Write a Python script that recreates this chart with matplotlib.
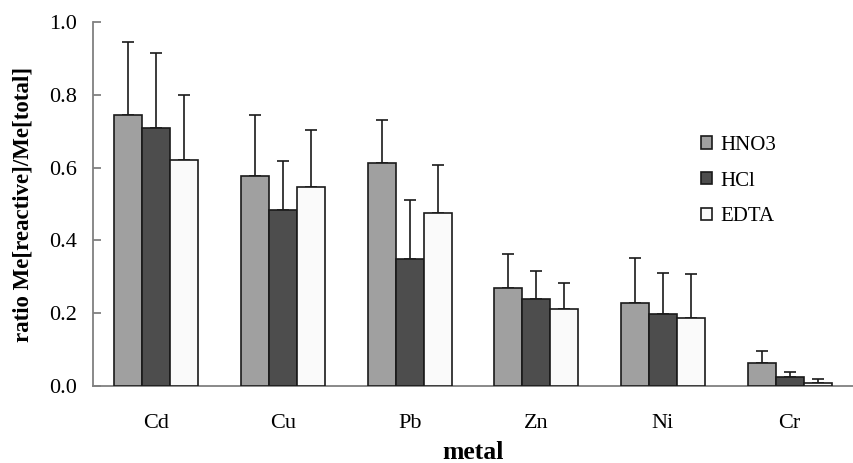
import numpy as np
import matplotlib
matplotlib.use("Agg")
import matplotlib.pyplot as plt

plt.rcParams['font.family'] = ['Liberation Serif', 'DejaVu Serif']

metals = ['Cd', 'Cu', 'Pb', 'Zn', 'Ni', 'Cr']
series = ['HNO3', 'HCl', 'EDTA']

hno3 = [0.745, 0.577, 0.613, 0.270, 0.229, 0.064]
hno3_err = [0.201, 0.168, 0.118, 0.093, 0.123, 0.033]
hcl = [0.710, 0.484, 0.348, 0.238, 0.197, 0.024]
hcl_err = [0.205, 0.133, 0.164, 0.078, 0.114, 0.014]
edta = [0.621, 0.548, 0.475, 0.211, 0.188, 0.009]
edta_err = [0.179, 0.156, 0.133, 0.073, 0.120, 0.011]

colors = ['#a0a0a0', '#4d4d4d', '#fafafa']

W, H = 854, 463
fig = plt.figure(figsize=(W / 100, H / 100), dpi=100)
ax = fig.add_axes([93 / W, (H - 386) / H, 760 / W, (386 - 22) / H])

x = np.arange(len(metals))
bw = 0.221
vals = [hno3, hcl, edta]
errs = [hno3_err, hcl_err, edta_err]
for k, (v, e) in enumerate(zip(vals, errs)):
    pos = x + (k - 1) * bw
    # upper error bar only, hidden behind the bar below its top
    ax.errorbar(pos, v, yerr=[np.zeros(len(v)), e], fmt='none',
                ecolor='#1a1a1a', elinewidth=1.2, capsize=4.6, capthick=1.2,
                zorder=2)
    ax.bar(pos, v, width=bw, color=colors[k], edgecolor='#1a1a1a',
           linewidth=1.2, label=series[k], zorder=3)

ax.set_xlim(-0.5, len(metals) - 0.5)
ax.set_ylim(0, 1.0)
ax.set_yticks(np.arange(0, 1.01, 0.2))
ax.set_yticklabels([f'{t:.1f}' for t in np.arange(0, 1.01, 0.2)])
ax.set_xticks(x)
ax.set_xticklabels(metals)

for s in ['top', 'right']:
    ax.spines[s].set_visible(False)
for s in ['left', 'bottom']:
    ax.spines[s].set_color('#808080')
    ax.spines[s].set_linewidth(1.3)

ax.tick_params(axis='y', direction='in', length=6, width=1.3, color='#808080',
               labelsize=16, pad=11.5)
ax.tick_params(axis='x', length=0, labelsize=16, pad=20)

ax.set_ylabel('ratio Me[reactive]/Me[total]', fontsize=16.5, fontweight='bold',
              labelpad=11)
ax.set_xlabel('metal', fontsize=18.5, fontweight='bold', labelpad=6)

leg = ax.legend(loc='center left', bbox_to_anchor=(701 / W, 1 - 181 / H),
                bbox_transform=fig.transFigure, frameon=False, fontsize=15,
                handlelength=0.52, handleheight=0.52, handletextpad=0.4,
                labelspacing=0.8, borderpad=0, borderaxespad=0)

fig.savefig('out.png', dpi=100)
